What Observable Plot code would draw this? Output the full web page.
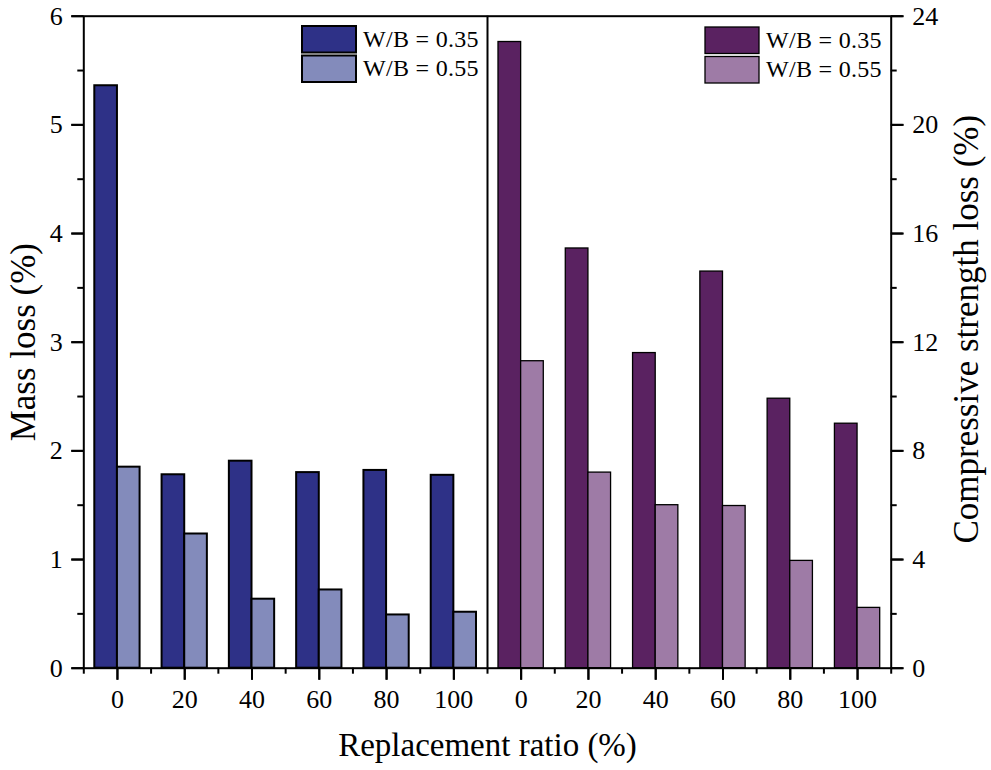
<!DOCTYPE html>
<html>
<head>
<meta charset="utf-8">
<script src="https://cdn.jsdelivr.net/npm/d3@7"></script>
<script src="https://cdn.jsdelivr.net/npm/@observablehq/plot@0.6"></script>
<style>
  html, body { margin: 0; padding: 0; background: #fff; }
  #wrap { position: relative; width: 991px; height: 770px; font-family: "Liberation Serif", "Times New Roman", serif; color: #000; }
  .legend { position: absolute; }
</style>
</head>
<body>
<div id="wrap"></div>
<script>
// ---- data ----
const ratios = [0, 20, 40, 60, 80, 100];
const series = ["W/B = 0.35", "W/B = 0.55"];
const massLoss035 = [5.36, 1.78, 1.905, 1.80, 1.82, 1.775];
const massLoss055 = [1.85, 1.235, 0.635, 0.72, 0.49, 0.515];
const strengthLoss035 = [23.05, 15.45, 11.6, 14.6, 9.92, 9.0];
const strengthLoss055 = [11.3, 7.2, 6.0, 5.97, 3.95, 2.22];
const massTicks = [0, 1, 2, 3, 4, 5, 6];
const strengthTicks = [0, 4, 8, 12, 16, 20, 24];

const massColors = ["#2E3187", "#838BBB"];
const strengthColors = ["#5A2261", "#9E7BA6"];

// right axis shares the frame: strength values map onto the mass scale
const factor = strengthTicks[strengthTicks.length - 1] / massTicks[massTicks.length - 1];
const nGroups = ratios.length * 2;

const massData = [];
ratios.forEach((r, i) => {
  massData.push({i, s: 0, v: massLoss035[i]});
  massData.push({i, s: 1, v: massLoss055[i]});
});
const strengthData = [];
ratios.forEach((r, i) => {
  strengthData.push({i: i + ratios.length, s: 0, v: strengthLoss035[i] / factor});
  strengthData.push({i: i + ratios.length, s: 1, v: strengthLoss055[i] / factor});
});

const W = 991, H = 770;
const mL = 83.3, mR = 100.3, mT = 15.7, mB = 102.3;
const slot = (W - mL - mR) / nGroups;
const outerInset = 11;
const innerInset = slot / 2;

const majorX = d3.range(nGroups).map(i => i + 0.5);
const minorX = d3.range(nGroups + 1);
const minorMass = massTicks.slice(1).map(t => t - 0.5);
const majorStrength = strengthTicks.map(t => t / factor);
const minorStrength = strengthTicks.slice(1).map(t => (t - 2) / factor);
const yMin = massTicks[0];
const xMin = 0, xMax = nGroups;

function bars(data, colors, sw) {
  return [0, 1].map(s => Plot.rectY(data.filter(d => d.s === s), {
    x1: "i", x2: d => d.i + 1, y: "v",
    fill: colors[s], stroke: "black", strokeWidth: sw,
    insetLeft: s === 0 ? outerInset : innerInset,
    insetRight: s === 0 ? innerInset : outerInset
  }));
}

// explicit tick strokes (rules of zero data length extended outward by insets)
const tickStyle = {stroke: "black", strokeWidth: 2};
function leftTicks(vals, len) { return Plot.ruleY(vals, {y: d => d, x1: xMin, x2: xMin, insetLeft: -len, ...tickStyle}); }
function rightTicks(vals, len) { return Plot.ruleY(vals, {y: d => d, x1: xMax, x2: xMax, insetRight: -len, ...tickStyle}); }
function bottomTicks(vals, len) { return Plot.ruleX(vals, {x: d => d, y1: yMin, y2: yMin, insetBottom: -len, ...tickStyle}); }

const serif = "Liberation Serif, Times New Roman, serif";

const plot = Plot.plot({
  width: W, height: H,
  marginLeft: mL, marginRight: mR, marginTop: mT, marginBottom: mB,
  style: {fontFamily: serif, fontSize: "26px", color: "black", background: "white", overflow: "visible"},
  x: {domain: [xMin, xMax]},
  y: {domain: [yMin, massTicks[massTicks.length - 1]]},
  marks: [
    ...bars(massData, massColors, 2),
    ...bars(strengthData, strengthColors, 1.3),
    Plot.frame({stroke: "black", strokeWidth: 2}),
    Plot.ruleX([ratios.length], {stroke: "black", strokeWidth: 2}),
    // left axis
    Plot.axisY({anchor: "left", ticks: massTicks, tickFormat: d => String(d), tickSize: 12, tickPadding: 9, fontSize: 26, stroke: "black", strokeWidth: 2, label: null}),
    leftTicks(massTicks, 12),
    leftTicks(minorMass, 6),
    // right axis
    Plot.axisY({anchor: "right", ticks: majorStrength, tickFormat: d => String(Math.round(d * factor)), tickSize: 12, tickPadding: 9, fontSize: 26, stroke: "black", strokeWidth: 2, label: null}),
    rightTicks(majorStrength, 12),
    rightTicks(minorStrength, 6),
    // x axis
    Plot.axisX({ticks: majorX, tickFormat: d => String(ratios[Math.floor(d) % ratios.length]), tickSize: 12, tickPadding: 9, fontSize: 26, stroke: "black", strokeWidth: 2, label: null}),
    bottomTicks(majorX, 12),
    bottomTicks(minorX, 6),
    // titles
    Plot.text(["Replacement ratio (%)"], {frameAnchor: "bottom", textAnchor: "middle", lineAnchor: "middle", dy: 77, fontSize: 33, fill: "black"}),
    Plot.text(["Mass loss (%)"], {frameAnchor: "left", textAnchor: "middle", lineAnchor: "middle", dx: -60, rotate: -90, fontSize: 35, fill: "black"}),
    Plot.text(["Compressive strength loss (%)"], {frameAnchor: "right", textAnchor: "middle", lineAnchor: "middle", dx: 76, dy: -13, rotate: -90, fontSize: 35, fill: "black"})
  ]
});

const wrap = document.getElementById("wrap");
wrap.appendChild(plot);

// legends (overlay)
function legend(left, top, colors, sw) {
  const svg = d3.select(wrap).append("svg")
    .attr("class", "legend")
    .style("left", left + "px").style("top", top + "px")
    .attr("width", 190).attr("height", 62);
  series.forEach((name, k) => {
    const g = svg.append("g").attr("transform", `translate(0, ${k * 29.5})`);
    g.append("rect").attr("x", 1).attr("y", 1).attr("width", 54).attr("height", 26.5)
      .attr("fill", colors[k]).attr("stroke", "black").attr("stroke-width", sw);
    g.append("text").attr("x", 62).attr("y", 21.5)
      .attr("font-family", serif)
      .attr("font-size", 24).attr("letter-spacing", 0.3).attr("fill", "black").text(name);
  });
}
legend(301, 24.5, massColors, 2);
legend(704, 26, strengthColors, 1.3);
</script>
</body>
</html>
